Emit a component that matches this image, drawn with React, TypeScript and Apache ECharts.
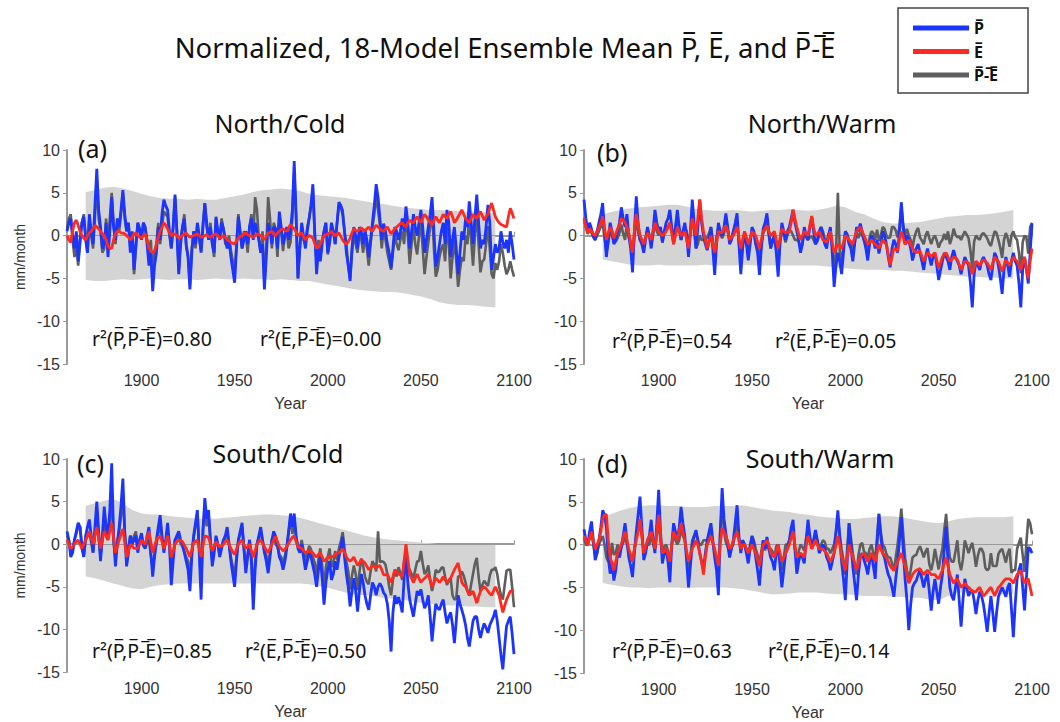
import React, { useEffect, useRef } from "react";
import * as echarts from "echarts";

// ---------- categories ----------
const YEARS: number[] = Array.from({ length: 241 }, (_, i) => 1860 + i);
const BAND_YEARS: number[] = Array.from({ length: 45 }, (_, i) => 1870 + 5 * i);
const X_TICKS = [1900, 1950, 2000, 2050, 2100];

// ---------- names ----------
const P_NAME = "P\u0305";
const E_NAME = "E\u0305";
const PE_NAME = "P\u0305-\u0305E\u0305";

// ---------- (a) North/Cold ----------
const aP = [
  0.5,1.5,2.0,0.0,-1.5,0.5,-3.0,-0.5,1.5,2.2,
  -0.5,-2.0,2.5,0.5,-1.0,3.5,7.8,3.0,1.0,-1.5,
  -1.0,1.5,-2.5,0.5,4.5,1.0,-0.5,2.0,1.0,3.0,
  5.3,2.5,0.5,1.5,-2.0,0.5,-4.0,-1.0,1.5,0.8,
  -0.5,1.5,1.0,-1.0,-3.5,-2.0,-6.5,-3.5,-2.0,1.0,
  -0.5,2.5,4.2,3.5,3.0,0.5,-1.5,1.0,4.8,0.5,
  -4.5,-1.0,1.0,2.0,-1.0,-2.5,-6.3,-2.0,0.5,-1.0,
  1.5,0.0,-2.0,1.0,3.8,1.5,-0.5,1.0,-1.0,-2.0,
  2.2,0.5,-0.5,1.5,0.8,-0.5,-1.5,-0.5,-2.5,-4.0,
  -5.5,-1.5,2.2,0.5,-1.5,-0.5,0.5,-1.0,1.0,2.0,
  -0.5,1.5,0.5,-0.5,-2.0,-1.0,-6.3,-2.5,1.5,0.5,
  -1.0,1.0,0.8,-1.5,2.8,1.0,-1.0,0.0,1.0,-0.5,
  0.5,3.0,8.7,2.5,-5.0,-1.5,1.5,0.0,-1.5,0.5,
  2.0,3.5,6.0,0.5,-4.5,-1.5,-3.0,-1.0,0.5,1.5,
  -2.0,-0.5,1.5,0.5,-1.0,1.5,3.9,3.5,2.5,0.5,
  -2.0,-3.5,-5.3,-1.5,1.0,0.0,-1.5,1.0,0.5,-1.0,
  0.6,-0.5,-2.5,-0.5,1.5,3.5,6.0,4.5,2.0,-0.5,
  1.4,0.5,-1.0,-2.0,-3.8,-1.5,1.0,0.5,-0.5,0.5,
  2.0,0.5,3.4,1.5,-1.5,0.5,2.5,1.0,0.0,1.5,
  3.0,1.0,-2.0,-0.5,1.0,2.5,4.5,0.5,-3.6,-2.5,
  -1.0,0.5,1.5,-1.0,3.0,1.5,-2.5,-0.5,1.0,-1.5,
  -4.5,-2.0,0.5,-0.5,2.0,1.0,4.0,1.5,-1.0,2.0,
  4.8,1.5,-1.5,-0.5,-1.0,1.0,3.6,1.5,-4.0,-2.5,
  -1.0,-2.0,-1.5,0.5,-0.8,-1.5,-0.5,-2.0,0.5,-1.0,
  -2.8];
const aE = [
  0.0,-0.5,-0.8,0.5,1.5,1.8,1.2,0.5,0.0,-0.3,
  -0.5,0.0,0.3,0.5,0.8,1.2,1.0,0.8,0.5,0.2,
  0.0,-0.5,-1.2,-1.5,-1.5,-0.5,0.2,0.5,0.5,0.3,
  0.3,0.2,0.0,-0.2,-0.5,-0.2,0.2,0.3,0.0,-0.2,
  -0.3,0.0,0.2,-0.5,-1.5,-1.8,-2.0,-1.8,-1.0,-0.2,
  0.5,1.0,1.5,1.2,0.8,0.3,0.0,0.2,0.2,0.0,
  -0.3,-0.2,0.0,0.2,0.3,0.0,-0.2,-0.1,0.0,0.1,
  0.2,0.0,-0.2,-0.1,0.0,0.1,-0.1,-0.2,0.0,0.1,
  0.2,0.0,-0.3,-0.2,0.0,-0.2,-0.5,-0.6,-0.8,-0.9,
  -1.0,-0.6,-0.3,-0.1,0.0,0.2,0.3,0.1,0.0,-0.1,
  -0.2,0.0,0.2,0.1,0.0,-0.2,-0.5,-0.1,0.3,0.4,
  0.5,0.2,0.0,0.3,0.5,0.7,0.8,0.6,0.5,0.9,
  1.3,1.0,0.8,0.4,0.0,0.2,0.3,-0.1,-0.5,-0.2,
  0.0,-0.1,-0.3,-0.9,-1.5,-1.3,-1.0,-0.5,0.0,0.1,
  0.2,0.3,0.5,0.2,0.0,0.2,0.3,-0.1,-0.5,-0.8,
  -1.0,-0.7,-0.3,0.3,0.8,0.6,0.5,0.7,0.9,0.7,
  0.6,0.8,1.0,0.7,0.5,0.9,1.2,1.0,0.8,0.6,
  0.5,0.8,1.0,0.6,0.2,0.5,0.8,1.0,1.2,1.4,
  1.5,1.2,1.0,1.5,1.8,1.6,1.5,1.9,2.2,1.8,
  1.5,2.0,2.5,2.2,1.8,1.5,1.2,1.8,2.2,1.8,
  1.5,2.0,2.5,2.2,2.0,2.5,2.8,2.2,1.5,1.8,
  2.2,2.6,3.0,2.5,2.0,1.7,1.5,2.0,2.5,2.2,
  2.0,2.5,2.8,2.3,1.8,2.2,2.5,3.2,3.8,3.0,
  2.2,1.8,1.5,1.3,1.2,1.1,1.0,2.2,3.2,2.6,
  2.0];
const aPE = [
  0.8,2.0,2.5,-0.5,-2.5,-1.0,-3.5,-1.0,1.5,2.5,
  0.0,-2.0,2.0,0.0,-1.5,2.0,6.5,2.0,0.5,-2.0,
  -1.5,2.0,-1.5,2.0,5.0,1.5,-1.0,1.5,0.5,2.5,
  5.0,2.0,0.5,1.5,-1.5,0.0,-4.5,-1.5,1.5,0.5,
  -0.2,1.5,0.8,-0.5,-2.0,-0.5,-5.0,-2.0,-1.0,1.5,
  -1.0,1.0,2.8,2.5,2.2,0.0,-1.5,1.0,4.5,0.5,
  -4.2,-0.5,1.0,2.5,-1.3,-2.5,-5.8,-1.5,0.5,-1.5,
  1.3,-0.5,-1.8,1.5,3.8,1.0,-0.4,1.5,-1.0,-2.5,
  2.0,0.0,-0.2,2.0,0.8,-1.0,-1.0,0.0,-1.7,-3.0,
  -4.5,-1.0,2.5,0.0,-1.5,0.5,0.2,-2.0,1.0,2.5,
  -0.3,4.5,3.0,-0.5,-2.0,0.5,-5.8,-1.5,4.5,2.0,
  -1.5,1.5,0.8,-2.5,2.3,0.5,-1.8,0.0,0.5,-1.5,
  -0.8,2.0,7.5,2.0,-5.0,-1.5,1.2,-0.5,-1.0,1.0,
  2.0,3.5,5.5,0.0,-3.0,-0.5,-2.0,-0.5,0.5,1.5,
  -2.2,-1.0,1.0,0.5,-1.0,1.5,3.6,3.5,3.0,0.5,
  -1.0,-3.5,-5.0,-2.0,0.2,-1.0,-2.0,0.5,-0.4,-2.0,
  0.0,-1.5,-3.5,-1.0,1.0,2.5,4.8,3.0,1.2,-1.5,
  0.9,-0.5,-2.0,-3.0,-4.0,-2.0,0.2,-1.0,-1.7,-0.5,
  0.5,-1.0,2.4,0.0,-3.3,-1.0,1.0,-1.0,-2.2,0.0,
  1.5,-1.5,-4.5,-2.5,-0.8,1.0,3.3,-1.5,-4.8,-4.0,
  -2.5,-1.5,-1.0,-3.0,1.0,-1.0,-5.0,-2.5,-0.5,-3.0,
  -6.0,-4.0,-2.5,-3.0,0.0,-1.0,2.5,-0.5,-3.5,0.0,
  2.8,-1.0,-4.3,-3.0,-2.8,-1.0,1.1,-1.5,-4.5,-5.0,
  -3.2,-4.0,-3.0,-1.0,-2.0,-3.5,-4.5,-4.0,-3.0,-4.0,
  -4.8];
const aUp = [5.1,5.3,5.6,5.7,5.5,5.2,4.9,4.6,4.4,4.3,4.3,4.2,4.3,4.2,4.2,4.4,4.6,4.8,5.1,5.3,5.4,5.5,5.4,
  5.2,4.9,4.7,4.6,4.5,4.4,4.2,4.0,3.8,3.7,3.5,3.3,3.2,3.1,3.0,3.0,2.9,2.9,2.8,2.8,2.7,2.6];
const aLo = [-5.2,-5.3,-5.3,-5.2,-5.1,-5.2,-5.1,-5.0,-5.1,-5.2,-5.1,-5.1,-5.2,-5.1,-5.0,-5.1,-5.1,-5.0,-5.1,
  -5.1,-5.2,-5.1,-5.2,-5.3,-5.3,-5.5,-5.7,-5.9,-6.1,-6.3,-6.4,-6.5,-6.6,-6.6,-6.7,-6.9,-7.1,-7.4,-7.8,
  -8.0,-8.1,-8.1,-8.2,-8.3,-8.4];

// ---------- (b) North/Warm ----------
const bP = [
  4.2,2.0,0.5,1.5,0.8,0.0,-0.5,0.5,1.5,2.5,
  3.8,0.5,-2.5,-0.5,1.5,0.5,-1.0,-0.5,0.5,1.5,
  3.3,2.0,1.0,2.5,0.0,-1.5,-4.3,0.5,4.6,1.5,
  -0.5,-1.0,-2.0,-0.5,1.0,0.0,-1.5,0.5,3.0,1.5,
  0.5,1.0,-0.8,0.5,1.5,2.0,3.0,1.0,-1.0,1.0,
  3.0,1.0,-0.5,0.5,1.5,0.0,-2.5,0.5,4.2,1.5,
  -1.5,1.0,4.2,1.5,0.0,-1.0,-1.7,-0.5,1.0,-1.5,
  -4.6,-1.0,1.5,0.5,0.0,1.0,2.6,1.0,-1.0,-0.5,
  0.5,1.5,2.6,-1.0,-4.5,-1.5,0.5,-1.0,-2.9,-1.0,
  1.0,0.5,-1.0,-2.0,-4.6,-1.5,0.8,1.5,2.6,0.5,
  -1.5,-0.5,0.0,-2.0,-4.8,-1.0,1.5,0.5,-0.5,0.5,
  1.0,2.0,3.0,1.5,0.5,-0.5,-2.0,-1.0,1.0,0.0,
  -0.5,1.0,2.2,0.5,-1.0,-0.5,0.5,1.0,0.0,-1.0,
  -1.5,0.0,1.0,-2.0,-6.0,-3.5,-2.0,-3.0,-4.5,-2.0,
  0.5,0.0,-1.0,-1.5,-3.0,-1.0,1.0,0.5,1.4,0.5,
  -0.5,-1.5,-2.9,-1.0,0.0,-0.5,-1.5,-0.5,-2.1,-1.0,
  0.5,0.0,-1.0,-2.5,-3.7,-1.5,-0.5,-1.0,-2.0,0.5,
  3.9,1.0,-1.0,0.0,-0.5,-1.5,-2.9,-2.0,-1.5,-1.0,
  -2.0,-3.0,-4.0,-2.5,-1.5,-2.5,-3.5,-2.5,-2.0,-3.5,
  -5.2,-4.0,-3.0,-2.0,-2.5,-3.0,-4.0,-2.5,-1.7,-2.5,
  -3.0,-3.5,-4.5,-3.5,-2.5,-3.0,-3.5,-5.5,-8.4,-4.5,
  -3.0,-3.5,-4.0,-3.0,-2.5,-3.0,-3.5,-4.5,-5.2,-3.5,
  -2.0,-2.5,-3.5,-5.0,-6.8,-4.0,-2.5,-3.5,-4.8,-3.0,
  -2.0,-3.0,-3.5,-5.5,-8.4,-4.0,-2.5,-4.0,-5.6,-2.0,
  1.4];
const bE = [
  2.0,1.0,0.3,0.8,0.5,0.2,0.0,0.5,1.0,1.5,
  2.2,0.8,-0.5,0.3,1.0,0.5,-0.3,0.2,0.8,1.2,
  2.0,1.8,1.5,1.0,0.3,-0.8,-2.0,0.5,2.5,1.2,
  0.0,-0.5,-1.0,-0.3,0.3,0.0,-0.5,0.5,1.5,1.0,
  0.5,0.2,0.0,0.2,0.5,1.0,1.5,0.3,-1.0,0.0,
  1.0,0.5,0.0,0.2,0.5,-0.5,-1.5,0.2,2.0,1.0,
  0.0,2.0,4.2,2.0,0.5,-0.5,-1.5,-0.8,0.0,-1.0,
  -2.0,-0.8,0.5,0.4,0.3,0.8,1.2,0.5,-0.5,-0.2,
  0.0,0.5,1.0,-0.2,-1.5,-0.5,0.5,-0.2,-1.0,-0.3,
  0.5,0.2,0.0,-0.8,-1.5,-0.5,0.5,0.8,1.2,0.5,
  0.0,0.2,0.5,-0.5,-1.5,-0.3,0.8,0.5,0.3,0.4,
  0.5,1.5,3.0,2.0,1.0,0.2,-0.5,0.0,0.5,0.2,
  0.0,1.2,2.3,1.0,0.0,0.2,0.5,0.0,-0.5,-0.6,
  -0.8,-0.2,0.5,-0.8,-2.0,-1.5,-1.0,-1.2,-1.5,-0.8,
  0.0,-0.2,-0.5,-0.8,-1.0,-0.2,0.5,0.8,1.0,0.5,
  0.0,-0.5,-1.0,-0.8,-0.5,-0.8,-1.0,-1.2,-1.5,-1.0,
  -0.5,-0.8,-1.0,-2.2,-3.5,-2.5,-1.5,-1.6,-1.8,-0.5,
  0.5,-0.2,-1.0,-0.8,-0.5,-1.0,-1.5,-1.8,-2.0,-1.9,
  -1.8,-2.4,-3.0,-2.5,-2.0,-2.2,-2.5,-2.2,-2.0,-2.9,
  -3.8,-3.2,-2.5,-2.2,-2.0,-2.5,-3.0,-2.8,-2.5,-2.6,
  -2.8,-3.4,-4.0,-3.5,-3.0,-3.1,-3.2,-3.8,-4.5,-3.8,
  -3.0,-3.2,-3.5,-3.1,-2.8,-3.0,-3.2,-3.6,-4.0,-3.2,
  -2.5,-2.8,-3.0,-3.6,-4.2,-3.5,-2.8,-3.2,-3.5,-3.0,
  -2.5,-2.8,-3.0,-3.5,-4.0,-3.2,-2.5,-3.8,-5.0,-3.0,
  -1.5];
const bPE = [
  2.0,1.0,0.2,0.7,0.3,-0.2,-0.5,0.0,0.5,1.0,
  1.5,-0.3,-2.0,-0.8,0.5,0.0,-0.8,-0.7,-0.3,0.3,
  1.3,0.2,-0.5,1.5,-0.3,-0.7,-2.3,0.0,2.1,0.3,
  -0.5,-0.5,-1.0,-0.2,0.7,0.0,-1.0,0.0,1.5,0.5,
  0.0,0.8,-0.8,0.3,1.0,1.0,1.5,0.7,0.0,1.0,
  2.0,0.5,-0.5,0.3,1.0,0.5,-1.0,0.3,2.2,0.5,
  -1.5,-1.0,0.0,-0.5,-0.5,-0.5,-0.2,0.3,1.0,-0.5,
  -2.6,-0.2,1.0,0.1,-0.3,0.2,1.4,0.5,-0.5,-0.3,
  0.5,1.0,1.6,-0.8,-3.0,-1.0,0.0,-0.8,-1.9,-0.7,
  0.5,0.3,-1.0,-1.2,-3.1,-1.0,0.3,0.7,1.4,0.0,
  -1.5,-0.7,-0.5,-1.5,-3.3,-0.7,0.7,0.0,-0.8,0.1,
  0.5,0.5,0.0,-0.5,-0.5,-0.7,-1.5,-1.0,0.5,-0.2,
  -0.5,-0.2,-0.1,-0.5,-1.0,-0.7,0.0,1.0,0.5,-0.4,
  -0.7,0.2,0.5,-1.2,-4.0,-2.0,5.0,-1.8,-3.0,-1.2,
  0.5,0.2,-0.5,-0.7,-2.0,-0.8,0.5,-0.3,0.4,0.0,
  -0.5,-1.0,-1.9,-0.2,0.5,0.3,-0.5,0.7,-0.6,0.0,
  1.0,0.8,0.0,-0.3,-0.2,1.0,1.0,0.6,-0.2,1.0,
  3.4,1.2,0.0,0.8,0.0,-0.5,-1.4,-0.2,0.5,0.9,
  -0.2,-0.6,-1.0,0.0,0.5,-0.3,-1.0,-0.3,0.0,-0.6,
  -1.4,-0.8,-0.5,0.2,-0.5,0.5,-1.0,-0.3,0.8,0.1,
  -0.2,-0.1,-0.5,0.0,0.5,0.1,-0.3,-1.7,-3.9,-0.7,
  0.0,-0.3,-0.5,0.1,0.3,0.0,-0.3,-0.9,-1.2,-0.3,
  0.5,0.3,-0.5,-1.4,-2.6,-0.5,0.3,-0.3,-1.3,0.0,
  0.5,-0.2,-0.5,-2.0,-4.4,-0.8,0.0,-0.2,-2.1,1.0,
  1.5];
const bUp = [2.5,2.8,3.0,3.2,3.3,3.4,3.5,3.6,3.6,3.4,3.1,3.0,2.9,2.9,3.0,2.9,2.8,2.9,3.0,3.0,3.1,3.0,2.9,
  3.0,3.2,3.5,3.3,2.8,2.5,2.0,1.6,1.4,1.4,1.5,1.6,1.8,2.0,2.2,2.3,2.4,2.4,2.5,2.6,2.8,3.0];
const bLo = [-2.8,-3.0,-3.2,-3.4,-3.5,-3.5,-3.4,-3.5,-3.5,-3.5,-3.5,-3.4,-3.5,-3.5,-3.5,-3.4,-3.5,-3.5,-3.5,
  -3.5,-3.5,-3.5,-3.5,-3.5,-3.6,-3.7,-3.8,-3.9,-4.0,-4.0,-4.0,-4.1,-4.1,-4.2,-4.3,-4.4,-4.5,-4.6,-4.7,
  -4.8,-4.8,-4.9,-4.9,-5.0,-5.0];

// ---------- (c) South/Cold ----------
const cP = [
  1.5,0.5,-1.5,-1.0,0.5,1.5,2.5,2.0,-0.5,-1.5,
  1.0,2.0,2.9,1.0,-1.0,2.0,5.0,1.5,-2.0,1.0,
  4.4,2.0,1.0,4.0,9.5,1.0,-2.6,0.0,2.0,4.5,
  7.7,1.5,-2.6,-1.0,1.0,0.0,0.5,1.0,-1.0,0.5,
  1.3,0.0,-0.5,1.0,2.0,-1.0,-3.8,-1.5,0.5,2.0,
  3.4,1.0,-1.0,0.5,2.5,0.0,-4.8,-2.0,0.5,1.0,
  1.5,0.5,0.0,-1.0,-2.0,-3.0,-5.5,-1.5,1.0,2.5,
  4.0,-1.0,-6.5,1.5,5.4,3.0,4.0,0.5,-2.6,-1.0,
  1.0,0.0,-1.5,-0.5,0.5,1.0,2.0,0.0,-2.0,-3.5,
  -5.0,-2.0,0.5,1.5,2.5,-0.5,-3.4,-1.5,0.5,-2.0,
  -7.7,-3.0,0.0,1.0,2.0,0.5,-1.0,-2.0,-3.4,-1.5,
  0.5,1.5,0.9,0.0,-1.5,-2.0,-3.0,-2.0,-0.5,1.5,
  3.6,2.0,3.6,1.0,-0.5,-1.0,0.0,-1.5,-3.0,-2.0,
  -1.0,-1.5,-2.5,-3.5,-5.0,-3.0,-1.5,-4.0,-7.1,-4.5,
  -3.0,-2.0,-4.2,-3.5,-2.0,-3.0,-1.5,-0.5,0.9,-1.5,
  -3.5,-5.0,-7.3,-5.5,-4.0,-5.5,-7.9,-5.5,-3.5,-4.5,
  -6.0,-7.0,-7.7,-6.0,-4.5,-5.0,-6.0,-5.0,-4.6,-5.0,
  -5.7,-6.0,-7.0,-9.0,-12.6,-8.0,-6.0,-7.0,-6.2,-7.0,
  -8.0,-4.0,-1.0,-4.5,-6.5,-7.5,-8.5,-7.0,-5.5,-6.0,
  -5.3,-6.5,-7.5,-7.0,-6.0,-8.5,-11.4,-9.0,-7.0,-7.5,
  -7.7,-7.0,-6.5,-8.0,-9.3,-8.5,-8.0,-9.5,-11.6,-9.0,
  -6.0,-7.0,-7.7,-8.5,-9.5,-11.0,-12.0,-10.5,-9.0,-8.5,
  -8.5,-10.0,-11.0,-10.0,-9.3,-9.8,-10.4,-9.5,-9.0,-8.5,
  -7.7,-9.0,-11.0,-13.0,-14.7,-12.0,-9.6,-9.0,-8.5,-10.5,
  -12.9];
const cE = [
  0.5,0.0,-0.5,-0.3,0.0,0.3,0.5,0.0,-0.5,0.0,
  0.5,1.0,1.5,0.8,0.0,1.0,2.0,0.8,-0.5,0.5,
  1.5,1.0,0.5,1.5,2.5,0.8,-1.0,-0.3,0.5,1.2,
  1.8,0.2,-1.5,-0.8,0.0,-0.2,-0.5,-0.5,-0.5,0.0,
  0.5,0.2,0.0,0.8,1.5,0.3,-1.0,-0.3,0.5,0.8,
  1.0,0.3,-0.5,0.2,1.0,0.0,-1.5,-0.8,0.0,0.3,
  0.5,0.4,0.3,-0.1,-0.5,-1.0,-1.5,-0.7,0.2,0.3,
  0.5,-0.5,-1.5,-0.2,1.0,0.9,0.8,0.0,-0.8,-0.3,
  0.3,0.0,-0.3,-0.2,0.0,0.3,0.5,0.0,-0.5,-0.9,
  -1.2,-0.6,0.0,0.3,0.5,0.0,-0.5,-0.3,0.0,-0.8,
  -1.5,-0.8,0.0,0.3,0.5,0.1,-0.3,-0.7,-1.0,-0.5,
  0.0,0.5,0.9,0.3,-0.3,-0.5,-0.8,-0.6,-0.3,0.1,
  0.5,0.8,1.0,0.3,-0.3,-0.4,-0.5,-0.8,-1.0,-0.9,
  -0.8,-0.9,-1.0,-1.3,-1.5,-1.2,-1.0,-1.5,-2.0,-1.8,
  -1.5,-1.5,-1.5,-1.4,-1.2,-1.1,-1.0,-0.8,-0.5,-1.0,
  -1.5,-1.8,-2.0,-1.8,-1.5,-2.0,-2.5,-2.2,-1.8,-2.0,
  -2.2,-2.6,-3.0,-2.8,-2.5,-2.6,-2.8,-2.6,-2.5,-3.0,
  -3.6,-3.6,-3.5,-4.0,-4.5,-3.8,-3.0,-3.2,-3.5,-3.6,
  -3.8,-2.0,0.0,-1.8,-3.5,-4.0,-4.5,-4.0,-3.5,-4.0,
  -4.5,-4.2,-4.0,-3.8,-3.5,-4.2,-5.0,-4.5,-4.0,-4.2,
  -4.5,-4.2,-3.8,-4.2,-4.5,-4.2,-4.0,-3.5,-3.0,-2.6,
  -2.2,-3.3,-4.5,-4.8,-5.0,-5.5,-6.0,-5.8,-5.5,-6.2,
  -6.9,-6.2,-5.5,-5.2,-5.0,-5.2,-5.5,-5.8,-6.0,-5.5,
  -5.0,-5.5,-6.0,-7.0,-8.0,-7.2,-6.5,-6.0,-5.5,-5.5,
  -5.5];
const cPE = [
  1.0,0.5,-1.0,-0.8,0.5,1.2,2.0,2.0,0.0,-1.5,
  0.5,1.0,1.4,0.2,-1.0,1.0,3.0,0.7,-1.5,0.5,
  2.9,1.0,0.5,2.5,7.0,0.2,-1.6,0.3,1.5,3.3,
  5.9,1.3,-1.1,-0.2,1.0,0.2,1.0,1.5,-0.5,0.5,
  0.8,-0.2,-0.5,0.2,0.5,-1.3,-2.8,-1.2,0.0,1.2,
  2.4,0.7,-0.5,0.3,1.5,0.0,-3.3,-1.2,0.5,0.7,
  1.0,0.1,-0.3,-0.9,-1.5,-2.0,-4.0,-0.8,0.8,2.2,
  3.5,-0.5,-5.0,1.7,4.4,2.1,3.2,0.5,-1.8,-0.7,
  0.7,0.0,-1.2,-0.3,0.5,0.7,1.5,0.0,-1.5,-2.6,
  -3.8,-1.4,0.5,1.2,2.0,-0.5,-2.9,-1.2,0.5,-1.2,
  -6.2,-2.2,0.0,0.7,1.5,0.4,-0.7,-1.3,-2.4,-1.0,
  0.5,1.0,0.0,-0.3,-1.2,-1.5,-2.2,-1.4,-0.2,1.4,
  3.1,1.2,2.6,0.7,-0.2,-0.6,0.5,-0.7,-2.0,-1.1,
  -0.2,-0.6,-1.5,-2.2,-3.5,-1.8,-0.5,-2.5,-5.1,-2.7,
  -1.5,-0.5,-2.7,-2.1,-0.8,-1.9,-0.5,0.3,1.4,-0.5,
  -2.0,-3.2,-5.3,-3.7,-2.5,-3.5,-5.4,-3.3,-1.7,-2.5,
  -3.8,-4.4,-4.7,-3.2,-2.0,-2.4,-3.2,1.5,-2.1,-2.0,
  -2.1,-2.4,-3.5,-5.0,-6.0,-4.2,-3.0,-3.8,-2.7,-3.4,
  -4.2,-2.0,-1.0,-2.7,-3.0,-3.5,-4.0,-3.0,-2.0,-2.0,
  -0.8,-2.3,-3.5,-3.2,-2.5,-4.3,-5.5,-4.5,-3.0,-3.3,
  -3.2,-2.8,-2.7,-3.8,-4.8,-4.3,-4.0,-6.0,-6.5,-6.4,
  -3.8,-3.7,-3.2,-3.7,-4.5,-5.5,-6.0,-4.7,-3.5,-2.3,
  -1.6,-3.8,-5.5,-4.8,-4.3,-4.6,-4.9,-3.7,-3.0,-3.0,
  -2.7,-3.5,-5.0,-6.0,-6.5,-4.8,-3.1,-3.0,-3.0,-5.0,
  -7.4];
const cUp = [4.5,4.8,5.1,5.3,4.8,4.0,3.6,3.5,3.5,3.3,3.2,3.1,3.0,3.0,3.0,3.1,3.2,3.3,3.4,3.5,3.5,3.4,3.3,
  3.1,2.8,2.5,2.2,1.9,1.6,1.3,1.0,0.8,0.6,0.5,0.4,0.3,0.2,0.1,0.0,0.0,0.0,0.0,0.0,0.0,0.0];
const cLo = [-3.8,-4.0,-4.3,-4.6,-4.9,-5.2,-5.3,-5.0,-4.8,-4.7,-4.6,-4.6,-4.6,-4.6,-4.6,-4.6,-4.6,-4.6,-4.6,
  -4.6,-4.6,-4.6,-4.6,-4.6,-4.7,-4.9,-5.1,-5.4,-5.7,-5.9,-6.0,-6.1,-6.3,-6.4,-6.5,-6.7,-6.9,-7.0,-7.1,
  -7.2,-7.2,-7.3,-7.3,-7.4,-7.4];

// ---------- (d) South/Warm ----------
const dP = [
  1.8,0.5,0.0,1.5,2.7,0.5,-1.8,-1.0,0.5,2.0,
  4.0,3.5,2.0,-1.5,-3.4,-2.0,-4.2,-3.0,-1.0,-1.5,
  -0.3,1.0,2.5,0.5,-1.5,-2.5,-3.8,-1.0,1.5,3.5,
  5.6,2.0,-1.8,-1.0,0.5,1.0,2.9,0.5,-1.0,2.5,
  6.4,1.5,-2.2,-1.0,-0.5,-2.0,-4.4,0.0,2.5,1.5,
  0.5,2.0,4.4,2.5,1.0,-2.0,-5.0,-2.5,0.0,1.0,
  1.7,0.5,-1.0,-2.0,-3.0,-1.0,0.5,1.5,2.5,0.5,
  -1.5,-3.0,-5.9,1.5,6.6,3.0,1.3,0.0,-1.5,-0.5,
  0.5,2.5,4.6,1.0,-1.0,0.5,0.0,-1.0,-2.2,-0.5,
  1.0,0.0,-1.5,-3.0,-4.8,-2.0,0.5,-0.5,0.9,-0.5,
  -1.5,-2.0,-3.0,-1.0,0.0,-2.5,-5.0,-3.0,-1.0,-0.5,
  0.5,2.0,2.9,-0.5,-3.4,-2.0,-1.0,-1.5,-2.2,0.5,
  2.9,1.0,-0.5,0.5,1.7,0.5,-1.0,-0.5,0.0,-0.5,
  -1.5,-2.0,-3.0,-2.0,-1.0,1.5,4.0,1.0,-2.0,-4.0,
  -6.5,-2.0,2.5,0.0,-2.5,-4.5,-6.5,-3.5,-1.5,-1.0,
  -1.8,-2.5,-3.5,-2.0,-1.0,-2.5,-4.0,0.0,3.6,1.0,
  -1.0,-1.5,-2.6,-3.5,-4.0,-5.0,-6.1,-4.0,-2.0,0.5,
  3.2,-0.5,-4.0,-6.5,-10.0,-7.0,-5.0,-4.5,-4.2,-3.5,
  -3.0,-4.0,-5.0,-4.0,-3.4,-5.5,-7.7,-5.5,-4.0,-5.5,
  -6.9,-5.0,-3.5,-0.5,2.1,-2.0,-5.0,-6.0,-6.5,-5.0,
  -3.5,-6.5,-9.6,-6.5,-4.0,-5.0,-6.0,-5.5,-5.3,-6.5,
  -8.1,-6.5,-5.5,-6.0,-7.0,-8.5,-10.2,-8.0,-6.0,-8.0,
  -10.2,-8.0,-6.1,-5.5,-5.0,-5.5,-6.1,-5.0,-4.5,-7.5,
  -10.8,-7.0,-4.0,-3.0,-2.2,-5.0,-7.7,-4.0,-0.3,-0.5,
  -1.0];
const dE = [
  1.0,0.5,0.0,0.8,1.5,0.5,-0.5,0.0,0.5,1.5,
  3.0,3.5,3.5,0.5,-1.5,-2.2,-3.0,-2.0,-1.0,-0.5,
  0.0,0.8,1.5,0.5,-0.5,-1.2,-2.0,-0.5,0.5,1.5,
  3.0,1.0,-1.0,-0.3,0.5,1.0,1.5,0.5,-0.5,1.5,
  3.5,1.0,-1.0,-0.8,-0.5,-1.2,-2.0,0.0,1.5,1.0,
  0.5,1.5,2.5,1.5,0.5,-0.8,-2.0,-1.2,-0.5,0.0,
  0.5,0.0,-1.0,-2.0,-3.5,-1.5,0.0,0.5,1.0,0.3,
  -0.5,-1.5,-2.5,0.0,2.0,1.5,1.0,0.3,-0.5,-0.2,
  0.5,1.0,1.5,0.5,-0.5,0.0,0.0,-0.5,-1.0,-0.5,
  0.0,-0.5,-1.0,-1.8,-2.5,-1.2,0.0,0.2,0.5,0.0,
  -1.0,-1.2,-1.5,-0.8,0.0,-1.0,-2.0,-1.5,-1.0,-0.5,
  0.0,0.8,1.5,0.0,-1.5,-1.2,-1.0,-1.2,-1.5,-0.2,
  1.0,0.3,-0.5,0.0,0.5,0.0,-0.5,-0.5,-0.5,-0.8,
  -1.0,-1.5,-2.0,-1.5,-1.0,0.0,1.0,0.0,-1.5,-2.2,
  -3.0,-1.5,0.0,-0.8,-1.5,-2.2,-3.0,-2.2,-1.5,-1.2,
  -1.0,-1.5,-2.0,-1.5,-1.0,-1.5,-2.0,-1.0,0.0,-0.5,
  -1.0,-1.2,-1.5,-2.0,-2.5,-2.8,-3.0,-2.5,-2.0,-1.5,
  -1.0,-1.8,-2.5,-3.5,-4.5,-4.0,-3.5,-3.2,-3.0,-2.9,
  -2.8,-3.2,-3.5,-3.2,-3.0,-3.2,-3.5,-3.5,-3.5,-3.8,
  -4.0,-3.5,-3.0,-2.2,-1.5,-2.5,-3.5,-4.0,-4.5,-4.2,
  -4.0,-4.5,-5.0,-4.8,-4.5,-4.8,-5.0,-5.2,-5.5,-5.5,
  -5.5,-5.2,-5.0,-5.5,-6.0,-5.8,-5.5,-5.2,-5.0,-5.5,
  -6.0,-5.5,-5.0,-4.8,-4.5,-4.2,-4.0,-4.0,-4.0,-4.2,
  -4.5,-4.0,-3.5,-3.2,-3.0,-3.8,-4.5,-4.2,-4.0,-5.0,
  -6.0];
const dPE = [
  0.8,0.0,0.0,0.7,1.2,0.0,-1.3,-1.0,0.0,0.5,
  1.0,0.0,-1.5,-2.0,-1.9,0.2,-1.2,-1.0,0.0,-1.0,
  -0.3,0.2,1.0,0.0,-1.0,-1.3,-1.8,-0.5,1.0,2.0,
  2.6,1.0,-0.8,-0.7,0.0,0.0,1.4,0.0,-0.5,1.0,
  2.9,0.5,-1.2,-0.2,0.0,-0.8,-2.4,0.0,1.0,0.5,
  0.0,0.5,1.9,1.0,0.5,-1.2,-3.0,-1.3,0.5,1.0,
  1.2,0.5,0.0,0.0,0.5,0.5,0.5,1.0,1.5,0.2,
  -1.0,-1.5,-3.4,1.5,4.6,1.5,0.3,-0.3,-1.0,-0.3,
  0.0,1.5,3.1,0.5,-0.5,0.5,0.0,-0.5,-1.2,0.0,
  1.0,0.5,-0.5,-1.2,-2.3,-0.8,0.5,-0.7,0.4,-0.5,
  -0.5,-0.8,-1.5,-0.2,0.0,-1.5,-3.0,-1.5,0.0,0.0,
  0.5,1.2,1.4,-0.5,-1.9,-0.8,0.0,-0.3,-0.7,0.7,
  1.9,0.7,0.0,0.5,1.2,0.5,-0.5,0.0,0.5,0.3,
  -0.5,-0.5,-1.0,-0.5,0.0,1.5,3.0,1.0,-0.5,-1.8,
  -3.5,-0.5,2.5,0.8,-1.0,-2.3,-3.5,-1.3,0.0,0.2,
  -0.8,-1.0,-1.5,-0.5,0.0,-1.0,-2.0,1.0,3.6,1.5,
  0.0,-0.3,-1.1,-1.5,-1.5,-2.2,-3.1,-1.5,0.0,2.0,
  4.2,1.3,-1.5,-3.0,-4.0,-3.0,-1.5,-1.3,-1.2,-0.6,
  -0.2,-0.8,-1.5,-0.8,-0.4,-2.3,-3.0,-2.0,-0.5,-1.7,
  -2.9,-1.5,-0.5,1.7,3.6,0.5,-1.5,-2.0,-2.0,-0.8,
  0.5,-2.0,-3.0,-1.7,0.5,-0.2,-1.0,-0.3,0.2,-1.0,
  -2.6,-1.3,-0.5,-0.5,-1.0,-2.7,-3.0,-2.8,-1.0,-2.5,
  -2.5,-2.5,-1.1,-0.7,-0.5,-1.3,-2.1,-1.0,-0.5,-3.3,
  -3.0,-3.0,-0.5,0.2,0.8,-1.2,-3.2,0.2,3.0,2.5,
  1.2];
const dUp = [3.2,3.6,4.0,4.3,4.5,4.6,4.6,4.5,4.5,4.4,4.4,4.4,4.5,4.5,4.5,4.6,4.4,4.2,4.0,3.9,3.8,3.6,3.5,
  3.3,3.2,3.1,3.0,3.0,3.1,3.2,3.3,3.3,3.2,3.0,2.8,2.6,2.5,2.7,3.0,3.1,3.2,3.2,3.2,3.2,3.3];
const dLo = [-4.5,-4.7,-4.9,-5.0,-5.0,-5.1,-5.0,-5.0,-5.0,-5.1,-5.0,-5.0,-5.0,-5.0,-5.1,-5.2,-5.4,-5.6,-5.8,
  -5.8,-5.7,-5.6,-5.6,-5.6,-5.7,-5.8,-5.8,-5.9,-6.0,-6.0,-6.0,-6.1,-6.1,-6.2,-6.2,-6.4,-6.5,-6.0,-5.6,
  -5.6,-5.7,-5.8,-5.8,-5.8,-5.8];

const PANELS = [
  { P: aP, E: aE, PE: aPE, up: aUp, lo: aLo, title: "North/Cold", tag: "(a)", rP: "0.80", rE: "0.00" },
  { P: bP, E: bE, PE: bPE, up: bUp, lo: bLo, title: "North/Warm", tag: "(b)", rP: "0.54", rE: "0.05" },
  { P: cP, E: cE, PE: cPE, up: cUp, lo: cLo, title: "South/Cold", tag: "(c)", rP: "0.85", rE: "0.50" },
  { P: dP, E: dE, PE: dPE, up: dUp, lo: dLo, title: "South/Warm", tag: "(d)", rP: "0.63", rE: "0.14" },
];

// ---------- layout ----------
const GRIDS = [
  { left: 67, top: 150, width: 447, height: 214 },
  { left: 584, top: 150, width: 448, height: 214 },
  { left: 67, top: 459, width: 447, height: 213 },
  { left: 584, top: 459, width: 448, height: 214 },
];
const TITLE_POS = [[280, 123], [822, 123], [278, 453], [820, 458]];
const TAG_POS = [[78, 148], [597, 152], [77, 463], [597, 463]];
const R_POS = [
  [[92, 338], [260, 338]],
  [[612, 340], [775, 340]],
  [[92, 650], [245, 650]],
  [[612, 650], [768, 650]],
];

const BLUE = "#1c34ff";
const RED = "#ff2a1f";
const GRAY = "#5e5e5e";
const BAND = "#d4d4d4";
const TXT_FONT = "'Noto Sans', 'Open Sans', sans-serif";
const AX_FONT = "'Liberation Sans', Arial, sans-serif";

function zip(xs: number[], ys: number[]) {
  const n = Math.min(xs.length, ys.length);
  const out: number[][] = [];
  for (let i = 0; i < n; i++) out.push([xs[i], ys[i]]);
  return out;
}

function buildOption() {
  const series: any[] = [];
  const xAxis: any[] = [];
  const yAxis: any[] = [];
  const graphic: any[] = [];

  PANELS.forEach((p, k) => {
    const left = k % 2 === 0;
    xAxis.push({
      type: "value",
      gridIndex: k,
      min: 1860,
      max: 2100,
      name: "Year",
      nameLocation: "middle",
      nameGap: 31,
      nameTextStyle: { fontFamily: AX_FONT, fontSize: 16, color: "#333" },
      axisLine: { show: true, lineStyle: { color: "#9a9a9a", width: 2 } },
      axisTick: { show: true, inside: true, length: 4, customValues: X_TICKS, lineStyle: { color: "#9a9a9a" } },
      axisLabel: {
        customValues: X_TICKS,
        formatter: (v: number) => String(v),
        fontFamily: AX_FONT,
        fontSize: 16,
        color: "#333",
        margin: 8,
      },
      splitLine: { show: false },
    });
    yAxis.push({
      type: "value",
      gridIndex: k,
      min: -15,
      max: 10,
      interval: 5,
      name: left ? "mm/month" : "",
      nameLocation: "middle",
      nameGap: 40,
      nameRotate: 90,
      nameTextStyle: { fontFamily: AX_FONT, fontSize: 14, color: "#333" },
      axisLine: { show: true, lineStyle: { color: "#9a9a9a", width: 2 } },
      axisTick: { show: true, inside: false, length: 4, lineStyle: { color: "#9a9a9a" } },
      axisLabel: { fontFamily: AX_FONT, fontSize: 16, color: "#333", margin: 7 },
      splitLine: { show: false },
    });

    const bandRows = BAND_YEARS.map((y, i) => [y, p.lo[i], p.up[i]]);
    series.push({
      type: "custom",
      name: "band-" + k,
      xAxisIndex: k,
      yAxisIndex: k,
      data: bandRows,
      encode: { x: 0, y: [1, 2] },
      silent: true,
      clip: true,
      z: 1,
      renderItem: (params: any, api: any) => {
        if (params.dataIndex !== 0) return null;
        const top: number[][] = [];
        const bottom: number[][] = [];
        for (let i = 0; i < bandRows.length; i++) {
          top.push(api.coord([bandRows[i][0], bandRows[i][2]]));
          bottom.push(api.coord([bandRows[i][0], bandRows[i][1]]));
        }
        const points = top.concat(bottom.reverse());
        return {
          type: "polygon",
          shape: { points },
          style: { fill: BAND, stroke: null },
        };
      },
    });
    series.push({
      type: "line",
      name: PE_NAME,
      xAxisIndex: k,
      yAxisIndex: k,
      data: zip(YEARS, p.PE),
      symbol: "none",
      color: GRAY,
      lineStyle: { color: GRAY, width: 2.6 },
      z: 3,
      markLine: {
        silent: true,
        symbol: "none",
        label: { show: false },
        lineStyle: { color: "#9a9a9a", width: 1, type: "solid" },
        data: [{ yAxis: 0 }],
        z: 2,
      },
    });
    series.push({
      type: "line",
      name: P_NAME,
      xAxisIndex: k,
      yAxisIndex: k,
      data: zip(YEARS, p.P),
      symbol: "none",
      color: BLUE,
      lineStyle: { color: BLUE, width: 2.8 },
      z: 4,
    });
    series.push({
      type: "line",
      name: E_NAME,
      xAxisIndex: k,
      yAxisIndex: k,
      data: zip(YEARS, p.E),
      symbol: "none",
      color: RED,
      lineStyle: { color: RED, width: 2.8 },
      z: 5,
    });

    graphic.push({
      type: "text",
      x: TITLE_POS[k][0],
      y: TITLE_POS[k][1],
      z: 10,
      style: {
        text: p.title,
        font: `25px ${TXT_FONT}`,
        fill: "#111",
        textAlign: "center",
        textVerticalAlign: "middle",
      },
    });
    graphic.push({
      type: "text",
      x: TAG_POS[k][0],
      y: TAG_POS[k][1],
      z: 10,
      style: {
        text: p.tag,
        font: `25px ${TXT_FONT}`,
        fill: "#111",
        textAlign: "left",
        textVerticalAlign: "middle",
      },
    });
    graphic.push({
      type: "text",
      x: R_POS[k][0][0],
      y: R_POS[k][0][1],
      z: 10,
      style: {
        text: `r\u00B2(${P_NAME},${PE_NAME})=${p.rP}`,
        font: `19.5px ${TXT_FONT}`,
        fill: "#111",
        textAlign: "left",
        textVerticalAlign: "middle",
      },
    });
    graphic.push({
      type: "text",
      x: R_POS[k][1][0],
      y: R_POS[k][1][1],
      z: 10,
      style: {
        text: `r\u00B2(${E_NAME},${PE_NAME})=${p.rE}`,
        font: `19.5px ${TXT_FONT}`,
        fill: "#111",
        textAlign: "left",
        textVerticalAlign: "middle",
      },
    });
  });

  graphic.push({
    type: "text",
    x: 505,
    y: 47,
    z: 10,
    style: {
      text: `Normalized, 18-Model Ensemble Mean ${P_NAME}, ${E_NAME}, and ${PE_NAME}`,
      font: `27.5px ${TXT_FONT}`,
      fill: "#111",
      textAlign: "center",
      textVerticalAlign: "middle",
    },
  });

  return {
    animation: false,
    backgroundColor: "#ffffff",
    grid: GRIDS.map((g) => ({ ...g, containLabel: false })),
    xAxis,
    yAxis,
    series,
    graphic,
    legend: {
      data: [P_NAME, E_NAME, PE_NAME],
      orient: "vertical",
      left: 898,
      top: 8,
      padding: [11, 30, 9, 15],
      itemGap: 5.5,
      itemWidth: 56,
      itemHeight: 5,
      icon: "rect",
      borderColor: "#444",
      borderWidth: 1.5,
      selectedMode: false,
      textStyle: { fontFamily: TXT_FONT, fontSize: 16, fontWeight: "bold", color: "#111", lineHeight: 18 },
    },
  };
}

export default function App() {
  const ref = useRef<HTMLDivElement>(null);
  useEffect(() => {
    if (!ref.current) return;
    const chart = echarts.init(ref.current, undefined, { renderer: "svg" });
    chart.setOption(buildOption() as any);
    return () => chart.dispose();
  }, []);
  return (
    <div
      ref={ref}
      style={{ position: "absolute", left: 0, top: 0, width: 1060, height: 722, background: "#fff" }}
    />
  );
}
